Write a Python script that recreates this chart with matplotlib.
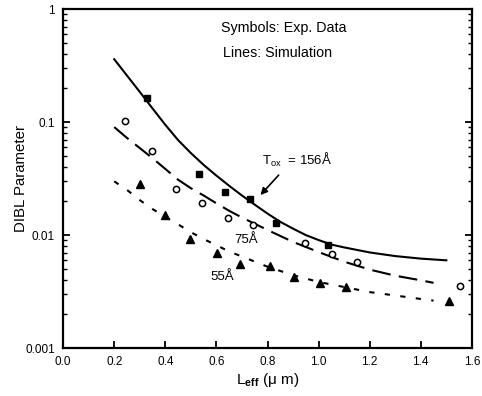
import matplotlib
matplotlib.use("Agg")
import matplotlib.pyplot as plt
from matplotlib.ticker import NullFormatter, LogLocator

plt.rcParams['font.family'] = ['Liberation Sans', 'DejaVu Sans']
plt.rcParams['mathtext.fontset'] = 'custom'
plt.rcParams['mathtext.rm'] = 'Liberation Sans'
plt.rcParams['mathtext.it'] = 'Liberation Sans'
plt.rcParams['mathtext.bf'] = 'Liberation Sans:bold'

# Experimental data
sq_x = [0.33, 0.53, 0.635, 0.733, 0.835, 1.035]
sq_y = [0.163, 0.0347, 0.024, 0.021, 0.0128, 0.0082]

ci_x = [0.243, 0.349, 0.443, 0.545, 0.647, 0.745, 0.945, 1.051, 1.149, 1.553]
ci_y = [0.102, 0.055, 0.0255, 0.0192, 0.0141, 0.0123, 0.0085, 0.0068, 0.0058, 0.00355]

tr_x = [0.302, 0.40, 0.498, 0.604, 0.694, 0.808, 0.902, 1.004, 1.106, 1.51]
tr_y = [0.0283, 0.015, 0.0092, 0.0069, 0.0056, 0.0053, 0.0043, 0.0038, 0.0035, 0.0026]

# Simulation curves
sim156_x = [0.2, 0.25, 0.3, 0.35, 0.4, 0.45, 0.5, 0.55, 0.6, 0.65, 0.7, 0.75, 0.8,
            0.85, 0.9, 0.95, 1.0, 1.05, 1.1, 1.2, 1.3, 1.4, 1.5]
sim156_y = [0.360, 0.258, 0.185, 0.132, 0.0946, 0.0693, 0.0532, 0.0418, 0.0336, 0.0273,
            0.0224, 0.0186, 0.0155, 0.0131, 0.0114, 0.0100, 0.00904, 0.00824, 0.00778,
            0.00702, 0.00652, 0.00619, 0.00598]

sim75_x = [0.2, 0.25, 0.3, 0.35, 0.4, 0.45, 0.5, 0.55, 0.6, 0.65, 0.7, 0.75, 0.8,
           0.9, 1.0, 1.1, 1.2, 1.3, 1.4, 1.45]
sim75_y = [0.0903, 0.0724, 0.0589, 0.0479, 0.0385, 0.0309, 0.026, 0.0224, 0.0191, 0.0164,
           0.0143, 0.0126, 0.0111, 0.0087, 0.00708, 0.00582, 0.00495, 0.00437, 0.00398, 0.00378]

sim55_x = [0.2, 0.25, 0.3, 0.35, 0.4, 0.45, 0.5, 0.55, 0.6, 0.65, 0.7, 0.8,
           0.9, 1.0, 1.1, 1.2, 1.3, 1.4, 1.45]
sim55_y = [0.0299, 0.0251, 0.0204, 0.017, 0.0145, 0.01245, 0.0106, 0.00923, 0.00813, 0.00716,
           0.00646, 0.00525, 0.00442, 0.00385, 0.00347, 0.00313, 0.00292, 0.00272, 0.00263]

xticks = [0.0, 0.2, 0.4, 0.6, 0.8, 1.0, 1.2, 1.4, 1.6]
yticks = [0.001, 0.01, 0.1, 1]
ytick_labels = ["0.001", "0.01", "0.1", "1"]

fig = plt.figure(figsize=(4.82, 3.96), dpi=100)
ax = fig.add_axes([0.131, 0.121, 0.848, 0.856])

ax.plot(sim156_x, sim156_y, color='black', lw=1.5, ls='-')
ax.plot(sim75_x, sim75_y, color='black', lw=1.5, dashes=(9, 4))
ax.plot(sim55_x, sim55_y, color='black', lw=1.5, dashes=(2.5, 5))

ax.plot(sq_x, sq_y, ls='none', marker='s', ms=4.5, color='black')
ax.plot(ci_x, ci_y, ls='none', marker='o', ms=4.5, mfc='white', mec='black', mew=1.1)
ax.plot(tr_x, tr_y, ls='none', marker='^', ms=5.5, color='black')

ax.set_yscale('log')
ax.set_xlim(0.0, 1.6)
ax.set_ylim(0.001, 1)
ax.set_xticks(xticks)
ax.set_xticklabels([f"{v:.1f}" for v in xticks])
ax.set_yticks(yticks)
ax.set_yticklabels(ytick_labels)
ax.yaxis.set_minor_locator(LogLocator(base=10, subs=range(2, 10)))
ax.yaxis.set_minor_formatter(NullFormatter())

for s in ax.spines.values():
    s.set_linewidth(1.6)
ax.tick_params(which='major', direction='in', length=5, width=1.3, labelsize=8.5)
ax.tick_params(which='minor', direction='in', length=3, width=1.0)
ax.tick_params(axis='y', which='both', right=True, pad=6)
ax.tick_params(axis='x', which='both', top=False, pad=6)

ax.set_ylabel("DIBL Parameter", fontsize=10.8)
ax.yaxis.set_label_coords(-0.087, 0.5)
ax.set_xlabel(r"L$_{\mathbf{eff}}$ (μ m)", fontsize=11, labelpad=2)

ax.text(0.386, 0.944, "Symbols: Exp. Data", transform=ax.transAxes, fontsize=10.3, va='center', ha='left')
ax.text(0.391, 0.870, "Lines: Simulation", transform=ax.transAxes, fontsize=10.3, va='center', ha='left')

ax.annotate("", xy=(0.765, 0.0217), xytext=(0.851, 0.0354),
            arrowprops=dict(arrowstyle='-|>', color='black', lw=1.2, mutation_scale=10))
ax.text(0.78, 0.0461, r"T$_{\mathregular{ox}}$  = 156Å", fontsize=9.5, va='center', ha='left')
ax.text(0.67, 0.00903, "75Å", fontsize=9.5, va='center', ha='left')
ax.text(0.576, 0.00426, "55Å", fontsize=9.5, va='center', ha='left')

fig.savefig("out.png", dpi=100)
